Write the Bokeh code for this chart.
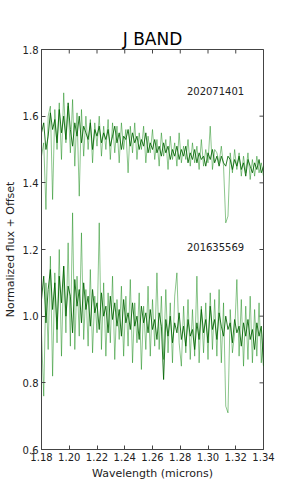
import numpy as np
from bokeh.plotting import figure
from bokeh.models import FixedTicker, Range1d, Label, PrintfTickFormatter
from bokeh.embed import file_html
from bokeh.resources import INLINE

# wavelength grid (microns)
wave = np.linspace(1.18, 1.34, 101)

# 202071401 (offset spectrum) - dark and light traces
upper_dark = [1.55, 1.58, 1.50, 1.54, 1.61, 1.56, 1.59, 1.52, 1.62, 1.55,
              1.60, 1.53, 1.64, 1.56, 1.51, 1.58, 1.54, 1.60, 1.52, 1.57,
              1.55, 1.53, 1.58, 1.50, 1.56, 1.54, 1.57, 1.52, 1.55, 1.53,
              1.56, 1.51, 1.54, 1.57, 1.52, 1.55, 1.50, 1.54, 1.53, 1.56,
              1.51, 1.55, 1.52, 1.54, 1.50, 1.53, 1.51, 1.55, 1.49, 1.52,
              1.50, 1.53, 1.49, 1.51, 1.48, 1.52, 1.49, 1.51, 1.47, 1.50,
              1.48, 1.51, 1.47, 1.50, 1.48, 1.51, 1.46, 1.49, 1.47, 1.50,
              1.46, 1.49, 1.47, 1.48, 1.45, 1.49, 1.47, 1.50, 1.46, 1.48,
              1.45, 1.48, 1.46, 1.45, 1.48, 1.47, 1.44, 1.47, 1.45, 1.48,
              1.44, 1.46, 1.42, 1.47, 1.45, 1.43, 1.46, 1.44, 1.47, 1.43,
              1.45]
upper_light = [1.48, 1.52, 1.32, 1.60, 1.63, 1.35, 1.62, 1.50, 1.64, 1.47,
               1.67, 1.52, 1.63, 1.49, 1.65, 1.45, 1.61, 1.36, 1.62, 1.48,
               1.60, 1.50, 1.59, 1.46, 1.58, 1.51, 1.60, 1.48, 1.57, 1.50,
               1.59, 1.47, 1.58, 1.49, 1.57, 1.46, 1.58, 1.50, 1.56, 1.43,
               1.57, 1.49, 1.58, 1.47, 1.55, 1.50, 1.57, 1.46, 1.54, 1.49,
               1.56, 1.47, 1.53, 1.45, 1.55, 1.48, 1.53, 1.44, 1.54, 1.47,
               1.52, 1.45, 1.55, 1.46, 1.51, 1.47, 1.53, 1.45, 1.52, 1.46,
               1.51, 1.44, 1.53, 1.45, 1.50, 1.46, 1.57, 1.44, 1.50, 1.49,
               1.46, 1.51, 1.45, 1.28, 1.30, 1.49, 1.43, 1.50, 1.44, 1.49,
               1.42, 1.48, 1.43, 1.49, 1.41, 1.47, 1.42, 1.48, 1.43, 1.46,
               1.42]

# 201635569 - dark and light traces
lower_dark = [1.05, 1.12, 0.98, 1.08, 1.14, 1.02, 1.10, 0.96, 1.12, 1.04,
              1.15, 1.00, 1.09, 1.06, 0.95, 1.11, 1.03, 1.08, 0.98, 1.10,
              1.02, 1.06, 0.97, 1.08, 1.01, 1.04, 0.96, 1.07, 1.00, 1.03,
              0.95, 1.06, 0.99, 1.04, 0.97, 1.02, 0.94, 1.05, 0.98, 1.01,
              0.96, 1.04, 0.97, 1.00, 0.93, 1.03, 0.98, 1.01, 0.95, 1.02,
              0.96, 0.99, 0.93, 1.01, 0.97, 0.81, 0.99, 0.94, 1.00, 0.92,
              0.98, 0.95, 1.01, 0.93, 0.97, 0.91, 0.99, 0.94, 0.96, 0.90,
              0.98, 0.93, 1.02, 0.95, 0.99, 0.92, 1.03, 0.96, 0.99, 0.93,
              1.01, 0.97, 0.94, 1.00, 0.96, 0.98, 0.92, 0.99, 0.95, 0.97,
              0.91, 0.98, 0.94, 0.99, 0.93, 0.96, 0.90, 0.98, 0.94, 0.97,
              0.85]
lower_light = [0.95, 0.76, 1.10, 0.90, 1.18, 0.82, 1.13, 0.92, 1.20, 0.88,
               1.15, 0.95, 1.22, 0.91, 1.31, 0.90, 1.12, 0.94, 1.25, 0.93,
               1.08, 0.91, 1.14, 0.89, 1.06, 0.95, 1.28, 0.90, 1.10, 0.88,
               1.07, 0.92, 1.12, 0.87, 1.05, 0.93, 1.09, 0.88, 1.06, 0.91,
               1.11, 0.86, 1.04, 0.92, 1.07, 0.84, 1.03, 0.90, 1.09, 0.88,
               1.05, 0.91, 1.13, 0.90, 1.06, 0.87, 1.08, 0.89, 1.04, 0.86,
               1.06, 1.13, 0.92, 0.85, 1.03, 0.89, 1.05, 0.87, 1.02, 0.88,
               1.12, 0.86, 1.03, 0.89, 1.04, 0.87, 1.07, 0.90, 1.05, 0.88,
               1.08, 0.86, 1.04, 0.73, 0.71, 1.02, 0.89, 0.95, 1.11, 0.88,
               1.05, 0.85, 1.03, 0.87, 1.06, 0.86, 1.02, 0.88, 1.04, 0.86,
               0.96]

x_ticks = [1.18, 1.20, 1.22, 1.24, 1.26, 1.28, 1.30, 1.32, 1.34]
y_ticks = [0.6, 0.8, 1.0, 1.2, 1.4, 1.6, 1.8]
labels = ["202071401", "201635569"]
label_x = [1.2848, 1.2848]
label_y = [1.677, 1.209]

FONT = "DejaVu Sans"
AX = "#444444"
X0, X1, Y0, Y1 = 1.18, 1.34, 0.6, 1.8

p = figure(width=275, height=485, output_backend="svg", toolbar_location=None,
           x_range=Range1d(X0, X1), y_range=Range1d(Y0, Y1),
           title="J BAND", min_border_left=29, min_border_right=12,
           min_border_top=49, min_border_bottom=36)
p.title.align = "center"
p.title.text_font = FONT
p.title.text_font_size = "17px"
p.title.text_font_style = "normal"
p.title.text_color = "#000000"
p.title.standoff = 2
p.grid.visible = False
p.outline_line_color = AX
p.background_fill_color = "white"

for series in (upper_light, lower_light):
    p.line(wave, series, line_color="#008000", line_alpha=0.45, line_width=1)
for series in (upper_dark, lower_dark):
    p.line(wave, series, line_color="#006400", line_alpha=0.85, line_width=1)

for lab, lx, ly in zip(labels, label_x, label_y):
    p.add_layout(Label(x=lx, y=ly, text=lab, text_font=FONT, text_font_size="10px",
                       text_color="#222222", text_baseline="middle", text_align="left"))

# inward ticks on the top and right edges (half of each dash is clipped by the frame)
p.scatter(x_ticks, [Y1] * len(x_ticks), marker="dash", size=8, angle=np.pi / 2,
          line_color=AX, line_width=1)
p.scatter([X1] * len(y_ticks), y_ticks, marker="dash", size=8,
          line_color=AX, line_width=1)

p.xaxis.ticker = FixedTicker(ticks=x_ticks)
p.yaxis.ticker = FixedTicker(ticks=y_ticks)
p.xaxis.formatter = PrintfTickFormatter(format="%.2f")
p.yaxis.formatter = PrintfTickFormatter(format="%.1f")
for ax in (p.xaxis[0], p.yaxis[0]):
    ax.major_tick_in = 4
    ax.major_tick_out = 0
    ax.minor_tick_in = 0
    ax.minor_tick_out = 0
    ax.axis_line_color = AX
    ax.major_tick_line_color = AX
    ax.major_label_text_font = FONT
    ax.major_label_text_color = "#222222"
    ax.major_label_text_font_size = "10px"
    ax.major_label_standoff = 3
    ax.axis_label_text_font = FONT
    ax.axis_label_text_font_size = "11px"
    ax.axis_label_text_font_style = "normal"
    ax.axis_label_text_color = "#222222"
    ax.axis_label_standoff = 3
p.xaxis.axis_label = "Wavelength (microns)"
p.yaxis.axis_label = "Normalized flux + Offset"

open("out.html", "w").write(file_html(p, INLINE))
